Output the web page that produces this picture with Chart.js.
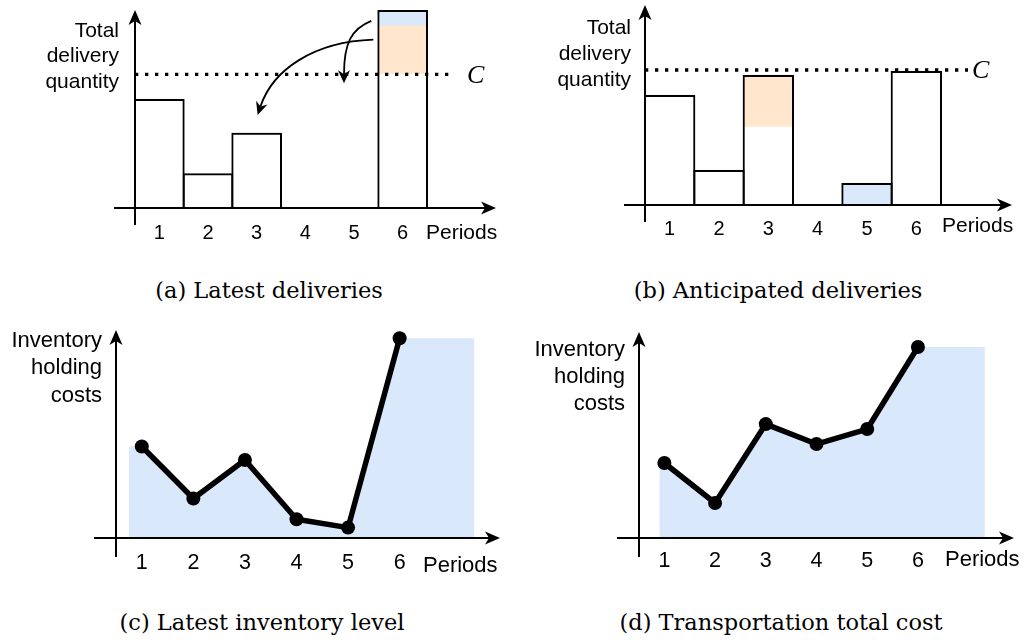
<!DOCTYPE html>
<html><head><meta charset="utf-8">
<script src="https://cdn.jsdelivr.net/npm/chart.js@4.4.1/dist/chart.umd.min.js"></script>
<style>
html,body{margin:0;padding:0;background:#fff;}
#wrap{position:relative;width:1024px;height:643px;overflow:hidden;background:#fff;}
canvas{position:absolute;}
.lbl{position:absolute;font-family:'Liberation Sans',Arial,sans-serif;color:#000;white-space:nowrap;}
.ylab{text-align:right;}
.cap{position:absolute;font-family:'DejaVu Serif',serif;font-size:22.5px;line-height:30px;width:500px;text-align:center;color:#000;white-space:nowrap;}
.cval{position:absolute;font-family:'Liberation Serif',serif;font-style:italic;font-size:26px;line-height:30px;color:#000;}
</style></head>
<body><div id="wrap">
<canvas id="cA" width="512" height="262" style="left:0;top:0"></canvas>
<canvas id="cB" width="512" height="262" style="left:512px;top:0"></canvas>
<canvas id="cC" width="512" height="260" style="left:0;top:320px"></canvas>
<canvas id="cD" width="512" height="260" style="left:512px;top:320px"></canvas>

<div class="lbl ylab" style="left:0;width:119px;top:16.5px;font-size:21px;line-height:25.5px">Total<br>delivery<br>quantity</div>
<div class="lbl ylab" style="left:512px;width:119px;top:14px;font-size:21px;line-height:26px">Total<br>delivery<br>quantity</div>
<div class="lbl ylab" style="left:0;width:102px;top:326px;font-size:22px;line-height:27.25px">Inventory<br>holding<br>costs</div>
<div class="lbl ylab" style="left:512px;width:113px;top:334.5px;font-size:22px;line-height:27px">Inventory<br>holding<br>costs</div>

<div class="lbl" style="left:426px;top:219px;font-size:21px;line-height:26px">Periods</div>
<div class="lbl" style="left:942px;top:212px;font-size:21px;line-height:26px">Periods</div>
<div class="lbl" style="left:423px;top:552px;font-size:22px;line-height:26px">Periods</div>
<div class="lbl" style="left:945px;top:546px;font-size:22px;line-height:26px">Periods</div>

<div class="cval" style="left:467px;top:60px">C</div>
<div class="cval" style="left:972px;top:55px">C</div>

<div class="cap" style="left:19px;top:275px">(a) Latest deliveries</div>
<div class="cap" style="left:528px;top:275px">(b) Anticipated deliveries</div>
<div class="cap" style="left:12px;top:607px">(c) Latest inventory level</div>
<div class="cap" style="left:531px;top:607px">(d) Transportation total cost</div>
</div>
<script>
// ---------------- data ----------------
const periods = ['1', '2', '3', '4', '5', '6'];
const periodNumbers = [1, 2, 3, 4, 5, 6];
const capacity = 6.75;

// (a) Latest deliveries
const latestOnTime       = [5.5, 1.75, 3.8, 0, 0, 6.75];
const latestToAnticipate = [0, 0, 0, 0, 0, 2.45];
const latestToPostpone   = [0, 0, 0, 0, 0, 0.8];
const latestTotal        = [5.5, 1.75, 3.8, 0, 0, 10];

// (b) Anticipated deliveries
const anticipatedOnTime    = [5.5, 1.75, 3.9, 0, 0, 6.7];
const anticipatedMovedIn   = [0, 0, 2.6, 0, 0, 0];
const anticipatedPostponed = [0, 0, 0, 0, 1.1, 0];
const anticipatedTotal     = [5.5, 1.75, 6.5, 0, 1.1, 6.7];

// (c) Latest inventory level
const inventoryLatest = [4.4, 1.9, 3.75, 0.9, 0.5, 9.6];
const areaSpanC = [0.75, 7.45];

// (d) Transportation total cost
const transportCost = [3.64, 1.7, 5.53, 4.56, 5.29, 9.27];
const areaSpanD = [0.9, 7.32];

// ---------------- colours ----------------
const BLUE = '#dae8fc', ORANGE = '#ffe6cc', WHITE = '#ffffff', BLACK = '#000000';

Chart.defaults.font.family = "'Liberation Sans', Arial, sans-serif";
Chart.defaults.color = BLACK;

function arrowHead(ctx, tx, ty, dx, dy, len, half, notch) {
  const l = Math.hypot(dx, dy), ux = dx / l, uy = dy / l, px = -uy, py = ux;
  ctx.beginPath();
  ctx.moveTo(tx, ty);
  ctx.lineTo(tx - ux * len + px * half, ty - uy * len + py * half);
  ctx.lineTo(tx - ux * notch, ty - uy * notch);
  ctx.lineTo(tx - ux * len - px * half, ty - uy * len - py * half);
  ctx.closePath();
  ctx.fill();
}

const deco = {
  id: 'deco',
  afterDatasetsDraw(chart, args, o) {
    const ctx = chart.ctx, a = chart.chartArea, xs = chart.scales.x, ys = chart.scales.y;
    ctx.save();
    ctx.strokeStyle = BLACK; ctx.fillStyle = BLACK;
    if (o.capacity != null) {
      const yc = ys.getPixelForValue(o.capacity);
      ctx.setLineDash([3.3, 6.7]);
      ctx.lineWidth = 3.3;
      ctx.beginPath(); ctx.moveTo(a.left, yc); ctx.lineTo(a.right + o.capExtend, yc); ctx.stroke();
      ctx.setLineDash([]);
    }
    const y0 = ys.getPixelForValue(0);
    const xAxisX = a.left;
    ctx.lineWidth = 2;
    const xr = a.right + o.xRight;
    ctx.beginPath(); ctx.moveTo(a.left - o.xLeft, y0); ctx.lineTo(xr - 11, y0); ctx.stroke();
    arrowHead(ctx, xr, y0, 1, 0, 15, 6.5, 11);
    ctx.beginPath(); ctx.moveTo(xAxisX, y0 + o.yBelow); ctx.lineTo(xAxisX, a.top + 11); ctx.stroke();
    arrowHead(ctx, xAxisX, a.top, 0, -1, 15, 6.5, 11);
    if (o.moves) {
      const bw = xs.getPixelForValue(1) - xs.getPixelForValue(0);
      const left6 = xs.getPixelForValue(5) - bw / 2;
      const curves = [
        { p0: [left6 - 5, ys.getPixelForValue(8.5)], c1: [-60, 2], c2: [15, -45],
          p3: [xs.getPixelForValue(2) + 1, ys.getPixelForValue(4.7)] },
        { p0: [left6 - 7, ys.getPixelForValue(9.45)], c1: [-20, 8], c2: [0, -40],
          p3: [xs.getPixelForValue(4) - 10, ys.getPixelForValue(6.3)] }
      ];
      ctx.lineWidth = 1.8;
      for (const c of curves) {
        const P1 = [c.p0[0] + c.c1[0], c.p0[1] + c.c1[1]];
        const P2 = [c.p3[0] + c.c2[0], c.p3[1] + c.c2[1]];
        const dx = c.p3[0] - P2[0], dy = c.p3[1] - P2[1], l = Math.hypot(dx, dy);
        const e = [c.p3[0] - dx / l * 9, c.p3[1] - dy / l * 9];
        ctx.beginPath(); ctx.moveTo(c.p0[0], c.p0[1]);
        ctx.bezierCurveTo(P1[0], P1[1], P2[0], P2[1], e[0], e[1]); ctx.stroke();
        arrowHead(ctx, c.p3[0], c.p3[1], dx, dy, 13, 6, 9);
      }
    }
    ctx.restore();
  }
};

function xAxisOpts(size, pad, extra) {
  return Object.assign({
    grid: { display: false, drawTicks: false },
    border: { display: false },
    ticks: { color: BLACK, font: { size: size, family: "'Liberation Sans', Arial, sans-serif" }, padding: pad, maxRotation: 0, autoSkip: false },
    afterFit(s) { s.height = 40; }
  }, extra || {});
}

function barChart(id, pad, tickPad, sets, decoOpts) {
  const [onTime, moved, other, total] = sets;
  const fillCommon = { stack: 'fill', order: 1, borderWidth: 0, grouped: false, barPercentage: 1, categoryPercentage: 1 };
  return new Chart(document.getElementById(id), {
    type: 'bar',
    data: {
      labels: periods,
      datasets: [
        { label: 'Total delivery', data: total, stack: 'outline', order: 0, backgroundColor: 'rgba(0,0,0,0)',
          borderColor: BLACK, borderWidth: 2, borderSkipped: 'start', grouped: false, clip: false,
          barPercentage: 1.041, categoryPercentage: 1 },
        Object.assign({ label: 'On time', data: onTime, backgroundColor: WHITE }, fillCommon),
        Object.assign({ label: 'Moved', data: moved, backgroundColor: ORANGE }, fillCommon),
        Object.assign({ label: 'Other', data: other, backgroundColor: BLUE }, fillCommon)
      ]
    },
    options: {
      responsive: false, animation: false, devicePixelRatio: 1,
      layout: { padding: pad },
      plugins: { legend: { display: false }, tooltip: { enabled: false }, deco: decoOpts },
      scales: {
        x: xAxisOpts(20, tickPad, { stacked: true }),
        y: { display: false, min: 0, max: 10, stacked: true }
      }
    },
    plugins: [deco]
  });
}

function lineChart(id, pad, tickPad, values, span, decoOpts) {
  const pts = periodNumbers.map((p, i) => ({ x: p, y: values[i] }));
  const area = [{ x: span[0], y: values[0] }].concat(pts, [{ x: span[1], y: values[values.length - 1] }]);
  return new Chart(document.getElementById(id), {
    type: 'line',
    data: {
      datasets: [
        { label: 'Cost', data: pts, order: 0, borderColor: BLACK, borderWidth: 5.5, borderJoinStyle: 'round',
          pointRadius: 7, pointBackgroundColor: BLACK, pointBorderWidth: 0, fill: false, tension: 0, clip: false },
        { label: 'Area', data: area, order: 1, borderColor: 'rgba(0,0,0,0)', borderWidth: 0, pointRadius: 0,
          fill: 'origin', backgroundColor: BLUE, tension: 0 }
      ]
    },
    options: {
      responsive: false, animation: false, devicePixelRatio: 1,
      layout: { padding: pad },
      plugins: { legend: { display: false }, tooltip: { enabled: false }, deco: decoOpts },
      scales: {
        x: xAxisOpts(21.5, tickPad, {
          type: 'linear', min: 0.5, max: 7.5,
          afterBuildTicks(s) { s.ticks = periodNumbers.map(v => ({ value: v })); }
        }),
        y: { display: false, min: 0, max: 10 }
      }
    },
    plugins: [deco]
  });
}

barChart('cA', { left: 135, right: 85, top: 10, bottom: 14 }, 13,
  [latestOnTime, latestToAnticipate, latestToPostpone, latestTotal],
  { capacity: capacity, capExtend: 25, xLeft: 21, xRight: 69, yBelow: 17, moves: true });

barChart('cB', { left: 133, right: 83, top: 5, bottom: 17 }, 12,
  [anticipatedOnTime, anticipatedMovedIn, anticipatedPostponed, anticipatedTotal],
  { capacity: capacity, capExtend: 27, xLeft: 21, xRight: 71, yBelow: 17, moves: false });

lineChart('cC', { left: 116, right: 35, top: 10, bottom: 2 }, 12.5, inventoryLatest, areaSpanC,
  { capacity: null, xLeft: 22, xRight: 23, yBelow: 19, moves: false });

lineChart('cD', { left: 127, right: 30, top: 12, bottom: 2 }, 10.5, transportCost, areaSpanD,
  { capacity: null, xLeft: 22, xRight: 20, yBelow: 19, moves: false });
</script>
</body></html>
